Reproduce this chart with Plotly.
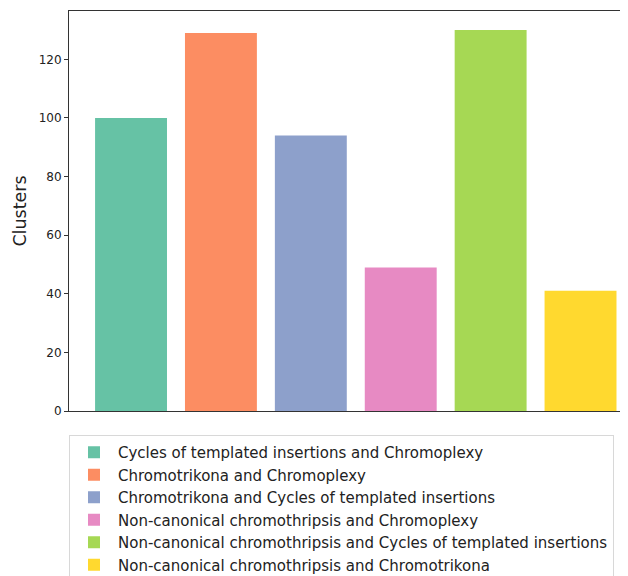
import plotly.graph_objects as go

categories = [
    "Cycles of templated insertions and Chromoplexy",
    "Chromotrikona and Chromoplexy",
    "Chromotrikona and Cycles of templated insertions",
    "Non-canonical chromothripsis and Chromoplexy",
    "Non-canonical chromothripsis and Cycles of templated insertions",
    "Non-canonical chromothripsis and Chromotrikona",
]
values = [100, 129, 94, 49, 130, 41]
colors = ["#66c2a5", "#fc8d62", "#8da0cb", "#e78ac3", "#a6d854", "#ffd92f"]
y_ticks = [0, 20, 40, 60, 80, 100, 120]

fig = go.Figure()
for i, (name, v, c) in enumerate(zip(categories, values, colors)):
    fig.add_trace(go.Bar(x=[i], y=[v], name=name, marker=dict(color=c, line=dict(width=0)),
                         width=0.8, showlegend=True))

fig.update_layout(
    width=620, height=568,
    margin=dict(l=61, r=0, t=3, b=165, autoexpand=False),
    paper_bgcolor="white", plot_bgcolor="white",
    font=dict(family="DejaVu Sans", color="#222"),
    xaxis=dict(range=[-0.69, 5.528], showticklabels=False, ticks="", showgrid=False,
               zeroline=False, showline=True, linecolor="#333", linewidth=1, mirror=True,
               automargin=False),
    yaxis=dict(range=[0, 136.5], tickvals=y_ticks, ticks="outside", ticklen=4, tickcolor="#333",
               tickfont=dict(size=12), showgrid=False, zeroline=False, showline=True,
               linecolor="#333", linewidth=1, automargin=False,
               title=dict(text="Clusters", font=dict(size=17.5), standoff=7)),
    legend=dict(x=0, y=-0.06, xanchor="left", yanchor="top", bgcolor="white",
                bordercolor="#d8d8d8", borderwidth=1, font=dict(size=15, color="#222"),
                tracegroupgap=0, traceorder="normal", itemwidth=38),
    bargap=0.2,
)
fig.write_html("out.html")
